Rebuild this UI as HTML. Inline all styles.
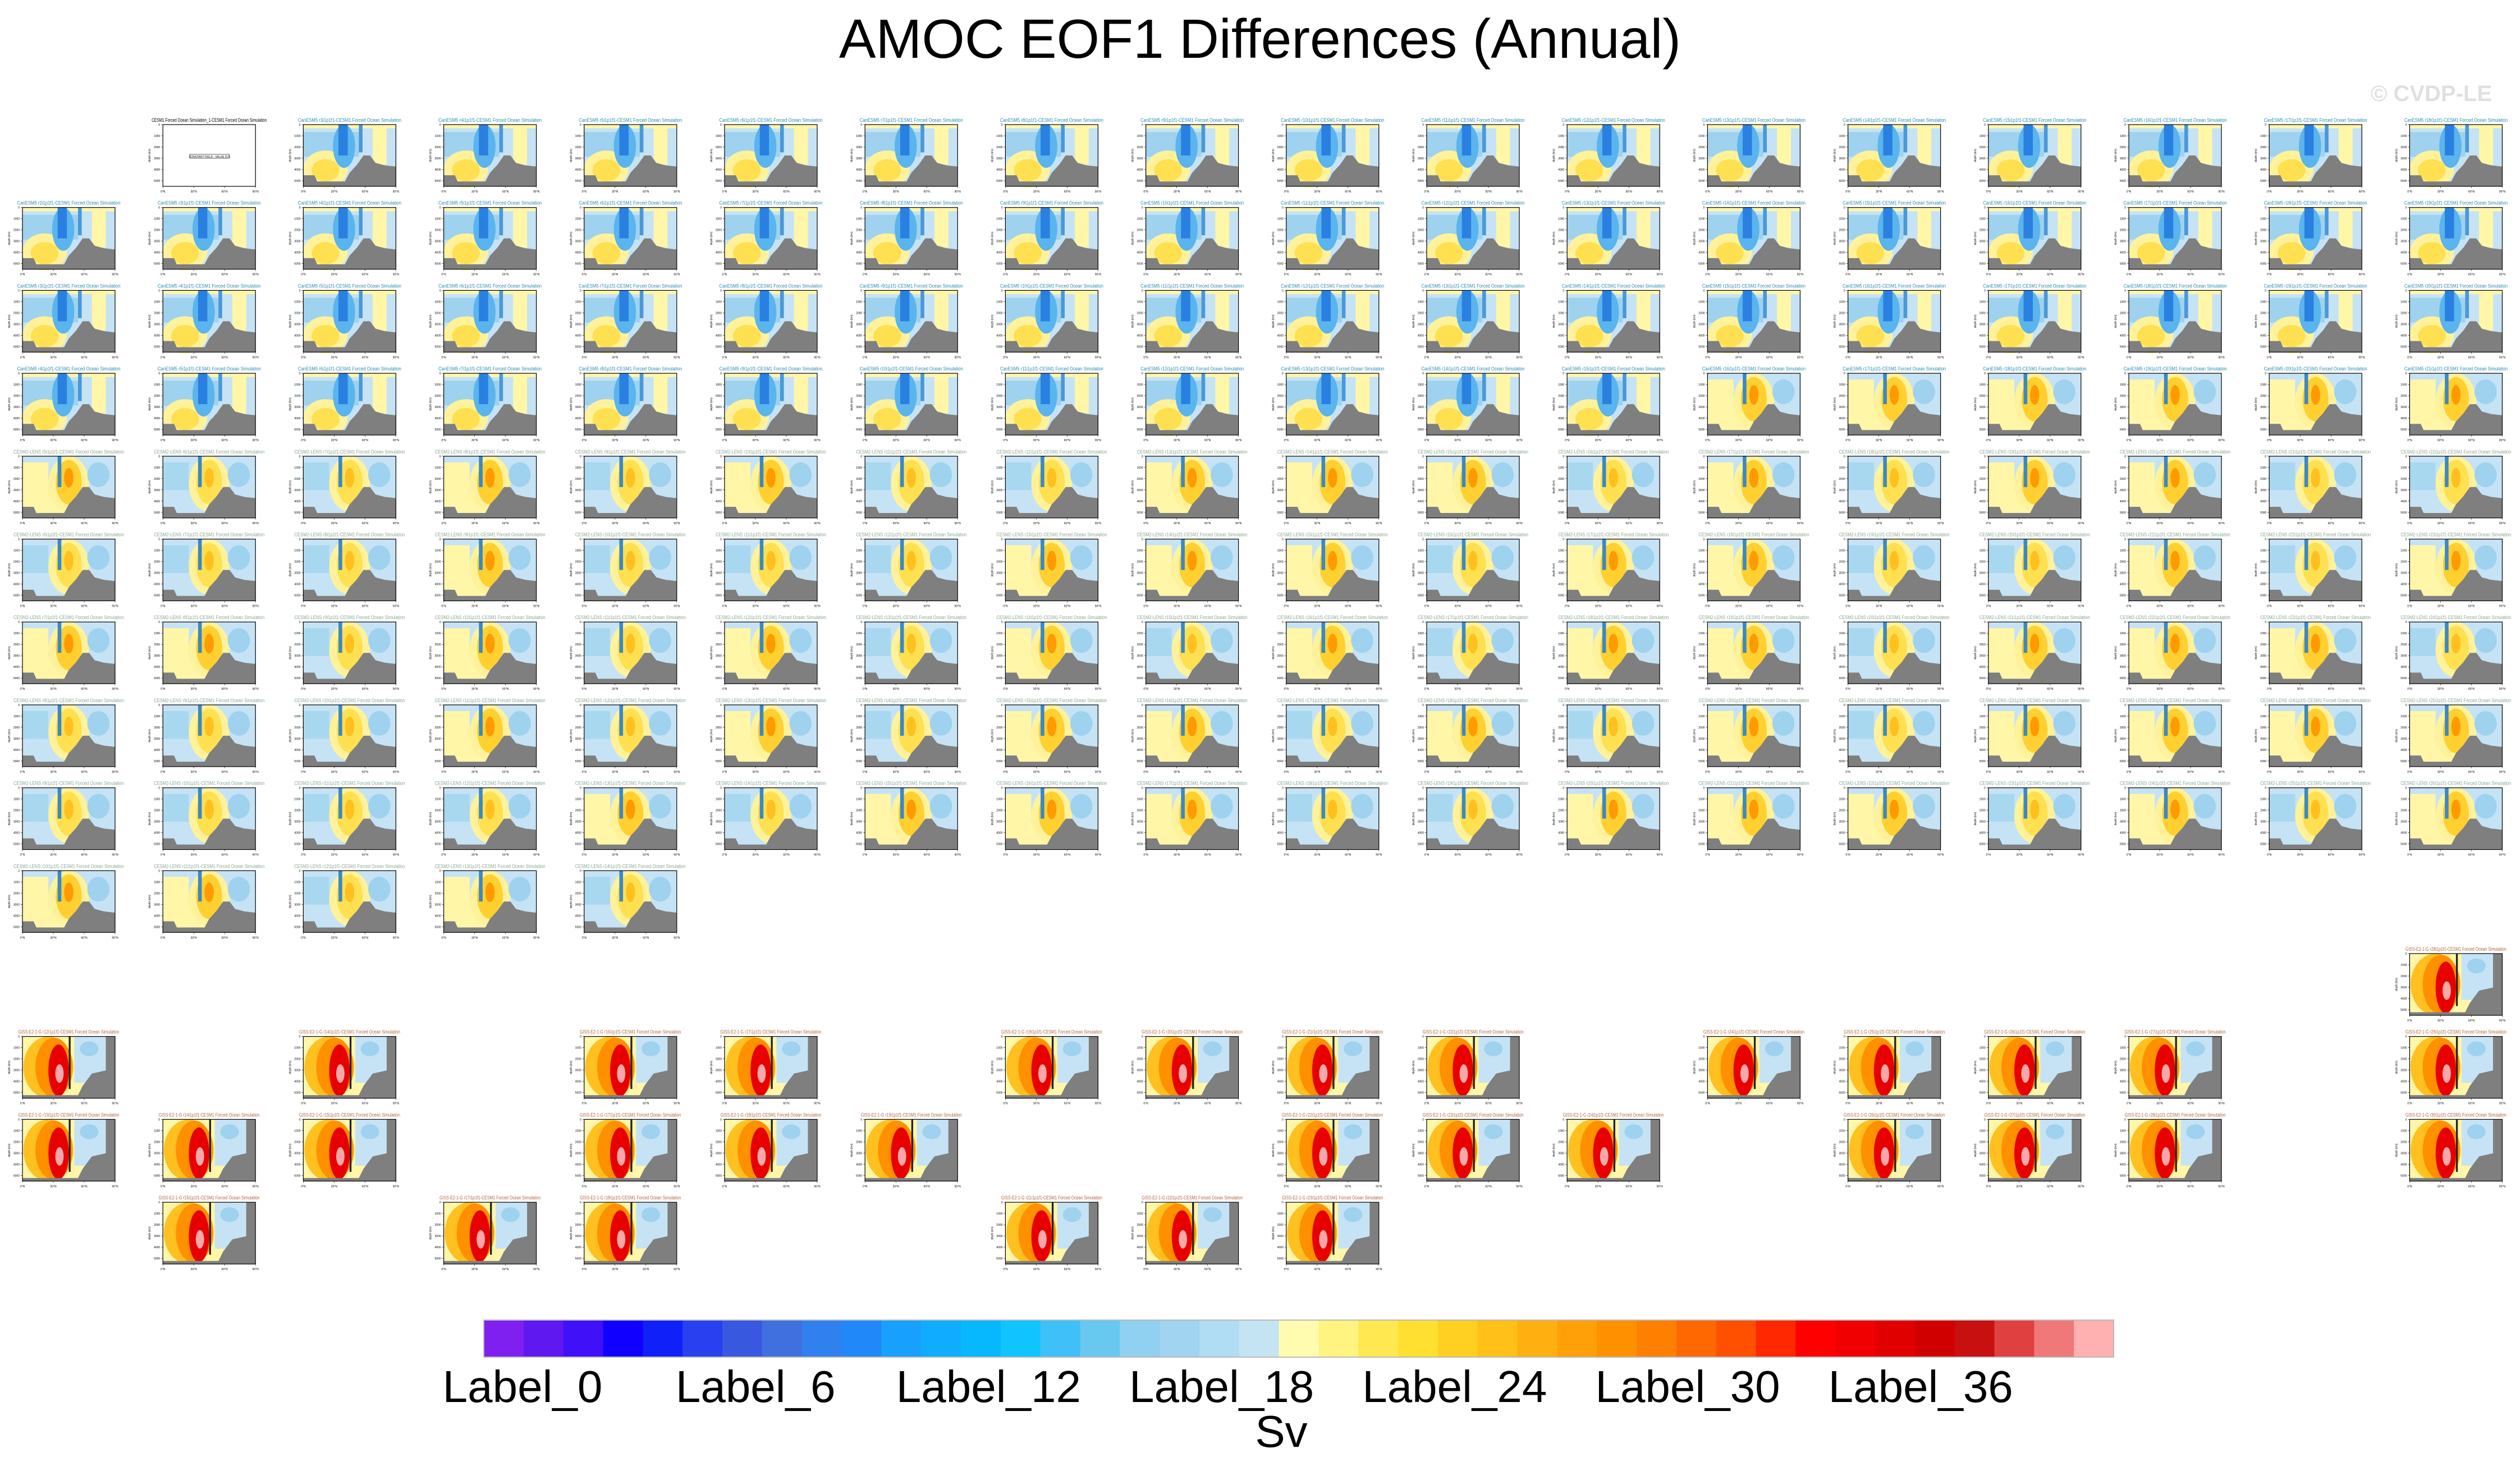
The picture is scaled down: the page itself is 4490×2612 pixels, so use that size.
<!DOCTYPE html>
<html><head><meta charset="utf-8"><style>
html,body{margin:0;padding:0;background:#fff}
svg{display:block}
text{font-family:"Liberation Sans",sans-serif}
</style></head><body>
<svg id="fig" width="4490" height="2612" viewBox="0 0 4490 2612" xmlns="http://www.w3.org/2000/svg">
<text x="2245" y="103" text-anchor="middle" font-size="98" textLength="1500" lengthAdjust="spacingAndGlyphs">AMOC EOF1 Differences (Annual)</text>
<text x="4440" y="180" text-anchor="end" font-size="40" font-weight="bold" fill="#e0e0e0">© CVDP-LE</text>
<g id="panels"></g>
<g id="cbar"></g>
</svg>
<script>
// Panel layout data: one string per row, one char per column (. = empty)
// B = blue-dominant CanESM5, Y = yellow-dominant, C = mixed/cool, R = red GISS, E = constant field
const rowTypes = [
 ".EBBBBBBBBBBBBBBBB",
 "BBBBBBBBBBBBBBBBBB",
 "BBBBBBBBBBBBBBBBBB",
 "BBBBBBBBBBBBYYYYYY",
 "YCCYCYCCYYYCYCYYCC",
 "CCCYCCCYYYCYYCCYCY",
 "YYCYCYCYCYCYYCYYYC",
 "CCCYCYCYYCYCYCYYYY",
 "CCCCYCYYYCCYYYCYCY",
 "YYCYC.............",
 ".................R",
 "R.R.RR.RRRR.RRRR.R",
 "RRR.RRR..RRR.RRR.R",
 ".R.RR..RRR........"
];
const rowModels = ["CanESM5","CanESM5","CanESM5","CanESM5","CESM2-LENS","CESM2-LENS","CESM2-LENS","CESM2-LENS","CESM2-LENS","CESM2-LENS","GISS-E2-1-G","GISS-E2-1-G","GISS-E2-1-G","GISS-E2-1-G"];
const cbarColors = ["#8020f0","#6018f0","#4010f8","#1000ff","#1020f8","#2840f0","#3858e0","#4070e0","#3080f0","#2088f8","#18a0ff","#10acff","#08b8ff","#10c4ff","#40c0f8","#68c8f0","#90d0f0","#a0d4f0","#b0dcf4","#c4e4f4","#fffcb0","#fff480","#ffe850","#ffe030","#ffd020","#ffc018","#ffb010","#ffa008","#ff9000","#ff8000","#ff6800","#ff5000","#ff2800","#ff0000","#f00000","#e00000","#d00000","#c81010","#e04040","#f07878","#ffb0b0"];
const cbarLabels = ["Label_0","Label_6","Label_12","Label_18","Label_24","Label_30","Label_36"];
const titleColors = {"CanESM5":"#2b8cb0","CESM2-LENS":"#8aa890","GISS-E2-1-G":"#b06840"};
const titleWidths = {"CanESM5":184,"CESM2-LENS":197,"GISS-E2-1-G":180};

const NS="http://www.w3.org/2000/svg";
function el(tag,attrs,parent){const e=document.createElementNS(NS,tag);for(const k in attrs)e.setAttribute(k,attrs[k]);parent.appendChild(e);return e;}
const W=165,H=110;
const colX=c=>40+250.2*c, rowY=r=>222+147.7*r;
const G=document.getElementById('panels');

function drawPanel(g,t){
  if(t==='E'){
    const b=el('rect',{x:48,y:53,width:70,height:7,fill:'none',stroke:'#333','stroke-width':0.8},g);
    
    
    const tx=el('text',{x:83,y:59,'font-size':5,'text-anchor':'middle'},g);tx.textContent="CONSTANT FIELD - VALUE IS 0";
    return;
  }
  if(t==='R'){
    el('rect',{x:0,y:0,width:W,height:H,fill:'#fff6a8'},g);
    el('rect',{x:W*0.56,y:0,width:W*0.34,height:H*0.75,fill:'#c5e3f5'},g);
    el('ellipse',{cx:W*0.72,cy:H*0.2,rx:W*0.1,ry:H*0.12,fill:'#9ed2ee'},g);
    el('ellipse',{cx:W*0.28,cy:H*0.5,rx:W*0.27,ry:H*0.5,fill:'#ffc020'},g);
    el('ellipse',{cx:W*0.34,cy:H*0.5,rx:W*0.2,ry:H*0.48,fill:'#ff9000'},g);
    el('ellipse',{cx:W*0.39,cy:H*0.55,rx:W*0.11,ry:H*0.42,fill:'#e80000'},g);
    el('ellipse',{cx:W*0.4,cy:H*0.6,rx:W*0.045,ry:H*0.15,fill:'#f8a8a8'},g);
    el('rect',{x:W*0.5,y:0,width:W*0.02,height:H*0.85,fill:'#222'},g);
    el('polygon',{points:`${W*0.9},0 ${W},0 ${W},${H} 0,${H} 0,${H*0.95} ${W*0.6},${H*0.95} ${W*0.65},${H*0.8} ${W*0.75},${H*0.6} ${W*0.9},${H*0.55}`,fill:'#7f7f7f'},g);
    return;
  }
  el('rect',{x:0,y:0,width:W,height:H,fill:'#c5e3f5'},g);
  if(t==='B'){
    el('rect',{x:0,y:0,width:W,height:H*0.06,fill:'#fff6a8'},g);
    el('rect',{x:0,y:H*0.12,width:W*0.6,height:H*0.4,fill:'#9ed2ee'},g);
    el('ellipse',{cx:W*0.24,cy:H*0.72,rx:W*0.24,ry:H*0.3,fill:'#fff29a'},g);
    el('ellipse',{cx:W*0.24,cy:H*0.74,rx:W*0.15,ry:H*0.18,fill:'#ffe050'},g);
    el('ellipse',{cx:W*0.44,cy:H*0.35,rx:W*0.12,ry:H*0.35,fill:'#5ab4ee'},g);
    el('rect',{x:W*0.38,y:0,width:W*0.1,height:H*0.5,fill:'#2a80e0'},g);
    el('rect',{x:W*0.6,y:0,width:W*0.04,height:H*0.45,fill:'#4a98d8'},g);
    el('rect',{x:W*0.75,y:H*0.05,width:W*0.15,height:H*0.6,fill:'#fff6a8'},g);
  } else {
    const y=t==='Y';
    el('rect',{x:0,y:H*0.55,width:W*0.7,height:H*0.45,fill:y?'#fff6a8':'#c5e3f5'},g);
    el('rect',{x:0,y:H*0.1,width:W*0.28,height:H*0.45,fill:y?'#fff6a8':'#a8d8f0'},g);
    el('ellipse',{cx:W*0.5,cy:H*0.45,rx:W*0.22,ry:H*0.45,fill:'#fff29a'},g);
    el('ellipse',{cx:W*0.5,cy:H*0.42,rx:W*0.14,ry:H*0.36,fill:y?'#ffd030':'#ffe050'},g);
    el('ellipse',{cx:W*0.5,cy:H*0.35,rx:W*0.05,ry:H*0.16,fill:y?'#ff9a00':'#ffc020'},g);
    el('rect',{x:W*0.38,y:0,width:W*0.04,height:H*0.5,fill:'#3a88c8'},g);
    el('ellipse',{cx:W*0.82,cy:H*0.3,rx:W*0.12,ry:H*0.2,fill:'#9ed2ee'},g);
  }
  el('polygon',{points:`0,${H*0.82} ${W*0.12},${H*0.82} ${W*0.15},${H*0.92} ${W*0.45},${H*0.92} ${W*0.5},${H*0.78} ${W*0.58},${H*0.65} ${W*0.65},${H*0.5} ${W*0.72},${H*0.5} ${W*0.78},${H*0.62} ${W*0.88},${H*0.66} ${W},${H*0.68} ${W},${H} 0,${H}`,fill:'#7f7f7f'},g);
}

rowTypes.forEach((row,r)=>{
  [...row].forEach((t,c)=>{
    if(t==='.')return;
    const g=el('g',{transform:`translate(${colX(c)},${rowY(r)})`},G);
    
    
    const model=t==='E'?null:rowModels[r];
    const title=el('text',{x:W/2,y:-5,'font-size':9,'text-anchor':'middle',fill:model?titleColors[model]:'#000',textLength:model?titleWidths[model]:205,lengthAdjust:'spacingAndGlyphs'},g);
    
    
    title.textContent=model?`${model} r${r+c+1}i1p1f1-CESM1 Forced Ocean Simulation`:"CESM1 Forced Ocean Simulation_1-CESM1 Forced Ocean Simulation";
    drawPanel(g,t);
    el('rect',{x:0,y:0,width:W,height:H,fill:'none',stroke:'#000','stroke-width':1.2},g);
    ['0','1000','2000','3000','4000','5000'].forEach((d,i)=>{
      const ty=i*H/5.5;
      el('line',{x1:-3,y1:ty,x2:0,y2:ty,stroke:'#000','stroke-width':0.6},g);
      const tt=el('text',{x:-5,y:ty+2,'font-size':5,'text-anchor':'end'},g);tt.textContent=d;
    });
    ['0°N','30°N','60°N','90°N'].forEach((d,i)=>{
      const tx=i*W/3;
      el('line',{x1:tx,y1:H,x2:tx,y2:H+3,stroke:'#000','stroke-width':0.6},g);
      const tt=el('text',{x:tx,y:H+11,'font-size':5,'text-anchor':'middle'},g);tt.textContent=d;
    });
    const yl=el('text',{x:0,y:0,'font-size':5,'text-anchor':'middle',transform:`translate(-22,${H/2}) rotate(-90)`},g);
    yl.textContent="depth (km)";
  });
});

// colorbar
const CB=document.getElementById('cbar');
const cx0=862,cx1=3766,cy=2352,ch=66;
const bw=(cx1-cx0)/cbarColors.length;
cbarColors.forEach((col,i)=>{
  const r=el('rect',{x:cx0+i*bw,y:cy,width:bw+0.5,height:ch,fill:col},CB);
  
  
});
el('rect',{x:cx0,y:cy,width:cx1-cx0,height:ch,fill:'none',stroke:'#bbb','stroke-width':2},CB);
cbarLabels.forEach((lab,k)=>{
  const t=el('text',{x:931+415.2*k,y:2498,'font-size':80,'text-anchor':'middle'},CB);
  
  
  t.textContent=lab;
});
const sv=el('text',{x:2283,y:2578,'font-size':80,'text-anchor':'middle'},CB);


sv.textContent="Sv";
</script>
</body></html>
